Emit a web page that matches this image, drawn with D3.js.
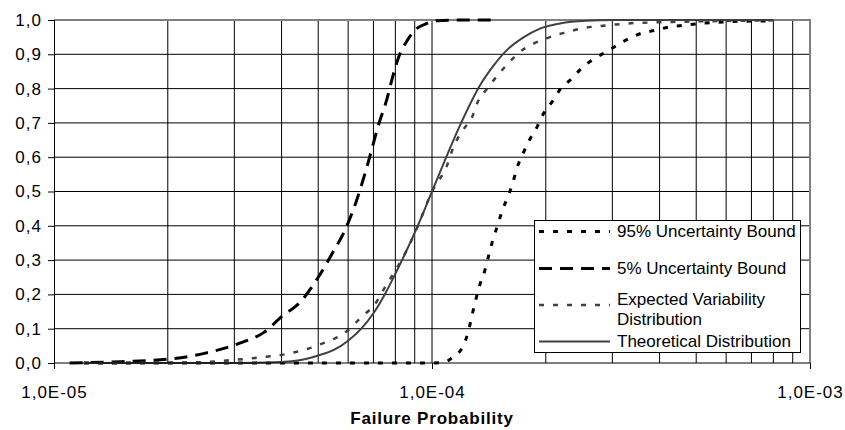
<!DOCTYPE html>
<html>
<head>
<meta charset="utf-8">
<script src="https://cdn.jsdelivr.net/npm/d3@7"></script>
<style>
  body { margin: 0; background: #fff; }
  svg { display: block; font-family: Arial, "Liberation Sans", sans-serif; }
</style>
</head>
<body>
<div id="chart"></div>
<script>
// failure probability vs cumulative probability
var upper95 = [
  [1.2e-5, 0], [1.0e-4, 0], [1.08e-4, 0.002], [1.12e-4, 0.012], [1.21e-4, 0.05], [1.25e-4, 0.096],
  [1.28e-4, 0.145], [1.34e-4, 0.23], [1.38e-4, 0.27], [1.41e-4, 0.31], [1.45e-4, 0.36],
  [1.49e-4, 0.40], [1.53e-4, 0.44], [1.58e-4, 0.48], [1.63e-4, 0.52], [1.68e-4, 0.57],
  [1.74e-4, 0.61], [1.81e-4, 0.65], [1.90e-4, 0.69], [1.98e-4, 0.73], [2.09e-4, 0.765],
  [2.19e-4, 0.80], [2.35e-4, 0.83], [2.49e-4, 0.86], [2.67e-4, 0.885], [2.92e-4, 0.91],
  [3.24e-4, 0.94], [3.55e-4, 0.96], [3.9e-4, 0.97], [4.26e-4, 0.98], [4.67e-4, 0.985],
  [5.12e-4, 0.99], [6.07e-4, 0.995], [7.24e-4, 0.997], [8.0e-4, 0.997]
];
var lower5 = [
  [1.1e-5, 0], [1.5e-5, 0.004], [2.0e-5, 0.011], [2.5e-5, 0.028], [3.1e-5, 0.058],
  [3.6e-5, 0.09], [4.0e-5, 0.135], [4.5e-5, 0.18], [5.0e-5, 0.25], [5.45e-5, 0.32],
  [5.9e-5, 0.39], [6.3e-5, 0.47], [6.8e-5, 0.59], [7.2e-5, 0.69], [7.6e-5, 0.77],
  [7.85e-5, 0.83], [8.15e-5, 0.89], [8.6e-5, 0.94], [9.0e-5, 0.97], [9.7e-5, 0.99],
  [1.03e-4, 0.998], [1.2e-4, 1.0], [1.45e-4, 1.0]
];
var expected = [
  [1.2e-5, 0], [2.2e-5, 0.001], [2.6e-5, 0.004], [3.0e-5, 0.009], [3.5e-5, 0.016], [4.2e-5, 0.028],
  [5.0e-5, 0.052], [6.0e-5, 0.096], [6.45e-5, 0.13], [7.15e-5, 0.18], [7.5e-5, 0.22],
  [7.9e-5, 0.26], [8.4e-5, 0.31], [9.1e-5, 0.39], [1.0e-4, 0.5], [1.1e-4, 0.58],
  [1.14e-4, 0.63], [1.21e-4, 0.68], [1.28e-4, 0.72], [1.32e-4, 0.76], [1.4e-4, 0.80],
  [1.55e-4, 0.86], [1.68e-4, 0.90], [2.05e-4, 0.95], [2.28e-4, 0.965], [2.5e-4, 0.976],
  [2.75e-4, 0.982], [3.0e-4, 0.986], [3.3e-4, 0.99], [3.9e-4, 0.993], [5.1e-4, 0.996],
  [8.0e-4, 0.999]
];
var theoretical = [
  [1.2e-5, 0], [3.0e-5, 0], [4.0e-5, 0.003], [4.5e-5, 0.009], [5.0e-5, 0.022], [5.5e-5, 0.038],
  [6.0e-5, 0.065], [6.5e-5, 0.1], [7.0e-5, 0.145], [7.5e-5, 0.2], [8.0e-5, 0.26],
  [8.5e-5, 0.32], [9.0e-5, 0.38], [9.5e-5, 0.44], [1.0e-4, 0.5], [1.1e-4, 0.61],
  [1.2e-4, 0.705], [1.34e-4, 0.81], [1.45e-4, 0.865], [1.57e-4, 0.91], [1.75e-4, 0.95],
  [1.93e-4, 0.975], [2.18e-4, 0.99], [2.55e-4, 0.998], [3.0e-4, 1.0], [8.0e-4, 1.0]
];

var seriesNames = ['95% Uncertainty Bound', '5% Uncertainty Bound', 'Expected Variability Distribution', 'Theoretical Distribution'];
var yTickLabels = ['0,0', '0,1', '0,2', '0,3', '0,4', '0,5', '0,6', '0,7', '0,8', '0,9', '1,0'];
var xTickLabels = ['1,0E-05', '1,0E-04', '1,0E-03'];
var xAxisTitle = 'Failure Probability';

var width = 845, height = 430;
var plotL = 54, plotR = 810, plotT = 20, plotB = 363;

var svg = d3.select('#chart').append('svg')
  .attr('width', width)
  .attr('height', height);

var x = d3.scaleLog().domain([1e-5, 1e-3]).range([plotL, plotR]);
var y = d3.scaleLinear().domain([0, 1]).range([plotB, plotT]);

// grid
var grid = svg.append('g');
grid.selectAll('.vgrid')
  .data(x.ticks().filter(function(d) { return d > 1.01e-5 && d < 0.99e-3; }))
  .enter().append('line')
    .attr('x1', function(d) { return x(d); })
    .attr('x2', function(d) { return x(d); })
    .attr('y1', plotT)
    .attr('y2', plotB)
    .attr('stroke', '#000')
    .attr('stroke-width', 1);

grid.selectAll('.hgrid')
  .data(d3.range(1, 10).map(function(i) { return i / 10; }))
  .enter().append('line')
    .attr('x1', plotL)
    .attr('x2', plotR)
    .attr('y1', function(d) { return y(d); })
    .attr('y2', function(d) { return y(d); })
    .attr('stroke', '#000')
    .attr('stroke-width', 1);

// plot area border (top and right are gray)
svg.append('path')
  .attr('d', 'M' + plotL + ',' + plotT + 'H' + plotR + 'V' + plotB)
  .attr('fill', 'none')
  .attr('stroke', '#808080')
  .attr('stroke-width', 2);

// curves
var styles = [
  {data: upper95, color: '#000', width: 3, dash: '5,9'},
  {data: lower5, color: '#000', width: 3, dash: '13,8'},
  {data: expected, color: '#404040', width: 2.5, dash: '5,9'},
  {data: theoretical, color: '#404040', width: 2, dash: null}
];

var line = d3.line()
  .x(function(d) { return x(d[0]); })
  .y(function(d) { return y(d[1]); })
  .curve(d3.curveMonotoneX);

svg.selectAll('.curve')
  .data(styles)
  .enter().append('path')
    .attr('class', 'curve')
    .attr('d', function(d) { return line(d.data); })
    .attr('fill', 'none')
    .attr('stroke', function(d) { return d.color; })
    .attr('stroke-width', function(d) { return d.width; })
    .attr('stroke-dasharray', function(d) { return d.dash; });

// axes
var yAxis = d3.axisLeft(y)
  .tickValues(d3.range(0, 11).map(function(i) { return i / 10; }))
  .tickFormat(function(d, i) { return yTickLabels[i]; })
  .tickSize(6)
  .tickPadding(6);

var yG = svg.append('g')
  .attr('transform', 'translate(' + plotL + ',0)')
  .call(yAxis);

var xAxis = d3.axisBottom(x)
  .tickValues([1e-5, 1e-4, 1e-3])
  .tickFormat(function(d, i) { return xTickLabels[i]; })
  .tickSize(6)
  .tickPadding(17);

var xG = svg.append('g')
  .attr('transform', 'translate(0,' + plotB + ')')
  .call(xAxis);

[yG, xG].forEach(function(g) {
  g.select('.domain').attr('stroke', '#000');
  g.selectAll('.tick line').attr('stroke', '#000');
  g.selectAll('text')
    .attr('fill', '#000')
    .style('font-size', '17px')
    .style('letter-spacing', '1px')
    .style('font-family', 'Arial, "Liberation Sans", sans-serif');
});
xG.select('.domain').attr('d', 'M' + plotL + ',0H' + plotR);

svg.append('text')
  .attr('x', (plotL + plotR) / 2)
  .attr('y', 424)
  .attr('text-anchor', 'middle')
  .style('font-size', '17px')
  .style('letter-spacing', '0.8px')
  .style('font-weight', 'bold')
  .text(xAxisTitle);

// legend
var legend = svg.append('g');
legend.append('rect')
  .attr('x', 534.5)
  .attr('y', 220.5)
  .attr('width', 266)
  .attr('height', 132)
  .attr('fill', '#fff')
  .attr('stroke', '#000')
  .attr('stroke-width', 1);

var legendRows = [231.5, 268.5, 305, 341.5];
var items = legend.selectAll('.item')
  .data(styles)
  .enter().append('g')
    .attr('transform', function(d, i) { return 'translate(0,' + legendRows[i] + ')'; });

items.append('line')
  .attr('x1', 539)
  .attr('x2', 610)
  .attr('stroke', function(d) { return d.color; })
  .attr('stroke-width', function(d) { return d.width; })
  .attr('stroke-dasharray', function(d) { return d.dash; });

items.append('text')
  .attr('x', 617)
  .attr('dy', '0.35em')
  .style('font-size', '17px')
  .each(function(d, i) {
    var t = d3.select(this);
    if (i === 2) {
      t.append('tspan').attr('x', 617).attr('dy', 0).text('Expected Variability');
      t.append('tspan').attr('x', 617).attr('dy', 20).text('Distribution');
    } else {
      t.text(seriesNames[i]);
    }
  });
</script>
</body>
</html>
